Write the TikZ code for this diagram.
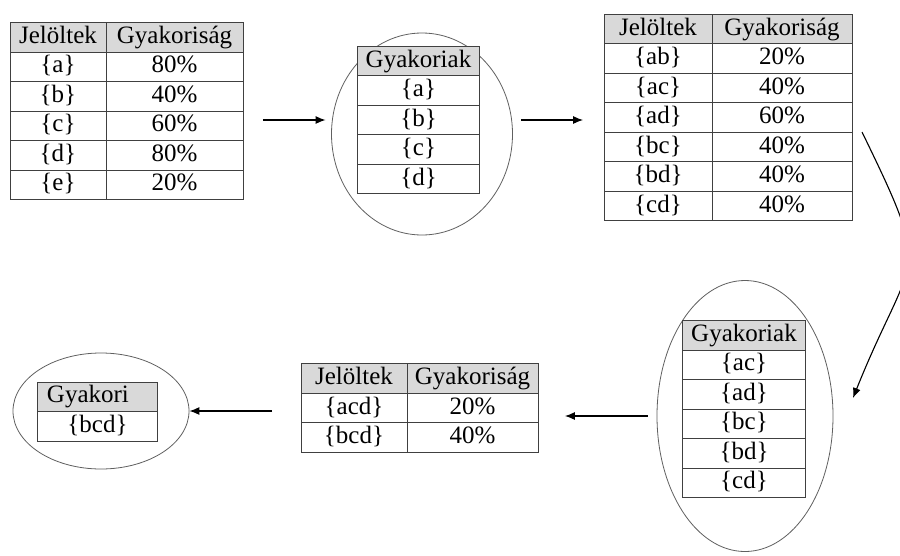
\documentclass[tikz,border=0pt]{standalone}
\usepackage{fontspec}
\setmainfont{Liberation Serif}
\usetikzlibrary{arrows.meta,matrix,shapes.geometric}
\definecolor{hdr}{HTML}{D9D9D9}
\definecolor{rule}{HTML}{404040}
\definecolor{rim}{HTML}{606060}

\begin{document}
\begin{tikzpicture}[
    x=1pt,y=-1pt,
    font=\fontsize{25}{30}\selectfont,
    tbl/.style={matrix of nodes,column sep=-0.8pt,row sep=-0.8pt,
      nodes={draw=rule,line width=0.8pt,inner sep=0pt,minimum height=29.5pt,text height=17pt,text depth=5pt},
      row 1/.style={nodes={fill=hdr}}},
    hdrleft/.style={text width=101pt,align=left,inner xsep=9pt},
    oval/.style={draw=rim,ellipse,line width=0.8pt,inner sep=0pt},
    arrow/.style={-{Latex[length=10pt,width=8pt]},line width=1.1pt}
]
\path[use as bounding box,fill=white] (0,0) rectangle (900,555);

\node[oval,minimum width=181pt,minimum height=202pt] (ell1) at (422,134) {};
\node[oval,minimum width=176pt,minimum height=271pt] (ell2) at (745,416) {};
\node[oval,minimum width=176pt,minimum height=116pt] (ell3) at (101,411) {};

\matrix[tbl,column 1/.style={nodes={minimum width=96pt}},column 2/.style={nodes={minimum width=137pt}}] (tab1) at (126.5,111) {
Jelöltek & Gyakoriság \\
\{a\} & 80\% \\
\{b\} & 40\% \\
\{c\} & 60\% \\
\{d\} & 80\% \\
\{e\} & 20\% \\
};
\matrix[tbl,nodes={minimum width=122pt}] (tab2) at (418.5,120) {
Gyakoriak \\
\{a\} \\
\{b\} \\
\{c\} \\
\{d\} \\
};
\matrix[tbl,column 1/.style={nodes={minimum width=108pt}},column 2/.style={nodes={minimum width=140pt}}] (tab3) at (728,117.5) {
Jelöltek & Gyakoriság \\
\{ab\} & 20\% \\
\{ac\} & 40\% \\
\{ad\} & 60\% \\
\{bc\} & 40\% \\
\{bd\} & 40\% \\
\{cd\} & 40\% \\
};
\matrix[tbl,nodes={minimum width=123pt}] (tab4) at (744,409) {
Gyakoriak \\
\{ac\} \\
\{ad\} \\
\{bc\} \\
\{bd\} \\
\{cd\} \\
};
\matrix[tbl,column 1/.style={nodes={minimum width=106pt}},column 2/.style={nodes={minimum width=131pt}}] (tab5) at (419.5,408) {
Jelöltek & Gyakoriság \\
\{acd\} & 20\% \\
\{bcd\} & 40\% \\
};
\matrix[tbl,nodes={minimum width=120pt}] (tab6) at (97.5,411.5) {
|[hdrleft]| Gyakori \\
\{bcd\} \\
};

\coordinate (bendin) at (862,132);
\coordinate (bendout) at (853,398);

\draw[arrow,shorten <=16pt,shorten >=28pt] (tab1.east |- tab2.west) -- (tab2.west);
\draw[arrow,shorten <=38pt,shorten >=17pt] (tab2.east) -- (tab3.west |- tab2.east);
\draw[arrow] (bendin) .. controls (935,282) and (913,248) .. (bendout);
\draw[arrow,shorten <=9pt,shorten >=23pt] (ell2.west) -- (tab5.east |- ell2.west);
\draw[arrow,shorten <=25pt] (tab5.west |- ell3.east) -- (ell3.east);

\end{tikzpicture}
\end{document}
